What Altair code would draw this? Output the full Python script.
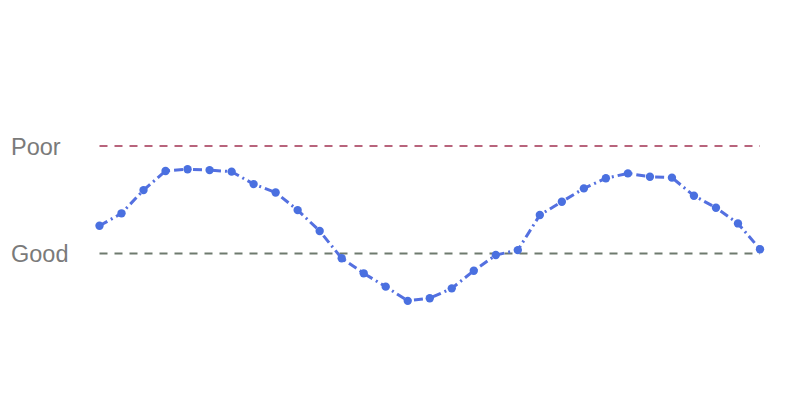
import altair as alt
import pandas as pd

# Data
index = list(range(31))
score = [62.9, 68.7, 79.5, 88.4, 89.2, 88.8, 88.1, 82.3, 78.4, 70.2, 60.5,
         47.8, 40.8, 34.6, 28.0, 29.2, 33.8, 42.0, 49.3, 51.6, 67.9, 74.1,
         80.3, 85.0, 87.3, 85.7, 85.3, 76.9, 71.3, 64.0, 52.0]
threshold_labels = ["Poor", "Good"]
threshold_values = [100, 50]
threshold_colors = ["#b8647c", "#6e7a6e"]

df = pd.DataFrame({"i": index, "score": score})
th = pd.DataFrame({"label": threshold_labels, "value": threshold_values,
                   "color": threshold_colors, "i0": [0, 0], "i1": [30, 30]})

xs = alt.Scale(domain=[0, 30], nice=False, zero=False)
ys = alt.Scale(domain=[-14.4, 164.2], nice=False, zero=False)

rules = alt.Chart(th).mark_rule(strokeDash=[8, 7], strokeWidth=2).encode(
    x=alt.X("i0:Q", scale=xs, axis=None),
    x2="i1:Q",
    y=alt.Y("value:Q", scale=ys, axis=None),
    color=alt.Color("color:N", scale=None),
)

labels = alt.Chart(th).mark_text(
    align="left", baseline="middle", fontSize=23.5, font="Liberation Sans",
    color="#7a7a7a", dy=1.5
).encode(
    x=alt.value(-88.5),
    y=alt.Y("value:Q", scale=ys, axis=None),
    text="label:N",
)

line = alt.Chart(df).mark_line(
    color="#5470e0", strokeWidth=3, strokeDash=[9, 4, 2, 4]
).encode(
    x=alt.X("i:Q", scale=xs, axis=None),
    y=alt.Y("score:Q", scale=ys, axis=None),
)

points = alt.Chart(df).mark_circle(size=70, color="#4a70e0", opacity=1).encode(
    x=alt.X("i:Q", scale=xs, axis=None),
    y=alt.Y("score:Q", scale=ys, axis=None),
)

chart = alt.layer(rules, line, points, labels).properties(
    width=660.5, height=384,
    padding={"left": 91.5, "right": 32, "top": 0, "bottom": 0},
    autosize="none",
    background="white",
).configure_view(strokeWidth=0, stroke="transparent")

chart.save("out.html", embed_options={"renderer": "svg", "actions": False})
